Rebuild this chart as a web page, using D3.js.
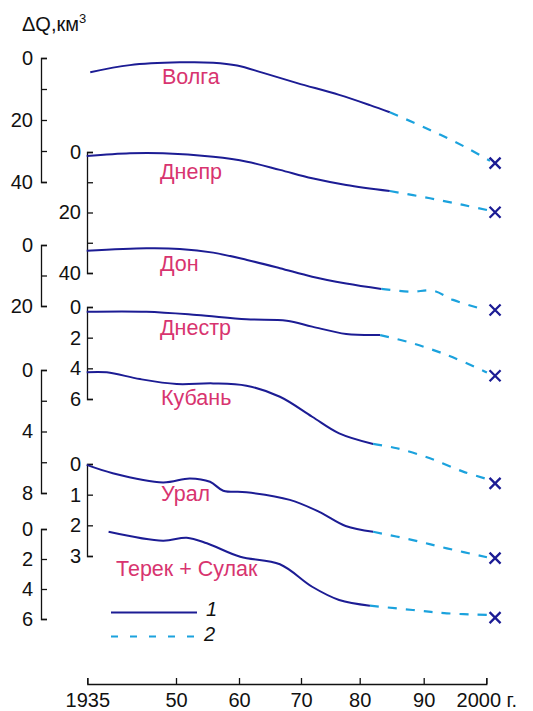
<!DOCTYPE html>
<html>
<head>
<meta charset="utf-8">
<script src="https://cdn.jsdelivr.net/npm/d3@7"></script>
<style>
    body { margin: 0; background: #fff; }
    svg { display: block; font-family: "Liberation Sans", Arial, sans-serif; }
</style>
</head>
<body>
<svg id="runoffChart" width="533" height="711"></svg>
<script>
// years on the x axis
const yearTicks = [1935, 1950, 1960, 1970, 1980, 1990, 2000];
const yearLabels = ["1935", "50", "60", "70", "80", "90", "2000 г."];

const riverNames = ["Волга", "Днепр", "Дон", "Днестр", "Кубань", "Урал", "Терек + Сулак"];

// [year, ΔQ km³] — 1: observed, 2: projected
const volgaObserved = [[1935.5, 4.6], [1942.2, 2.3], [1950.6, 1.4], [1955.9, 1.5], [1959.7, 2.4], [1963.9, 4.8], [1969.4, 8.1], [1976.5, 11.9], [1981.6, 15.2], [1984.7, 17.5]];
const volgaProjected = [[1984.7, 17.5], [1991.0, 23.2], [1996.9, 29.0], [2000.6, 33.2]];

const dneprObserved = [[1934.9, 1.3], [1942.2, 0.4], [1947.8, 0.4], [1955.9, 1.6], [1961.3, 3.2], [1966.6, 5.9], [1971.9, 8.7], [1977.7, 10.9], [1984.7, 12.9]];
const dneprProjected = [[1984.7, 12.9], [1991.0, 15.3], [1996.3, 17.5], [2000.6, 19.4]];

const donObserved = [[1934.9, 1.9], [1945.0, 1.1], [1950.6, 1.3], [1955.9, 2.5], [1961.3, 4.9], [1966.6, 7.6], [1971.9, 10.4], [1977.7, 12.6], [1983.4, 14.4]];
const donProjected = [[1983.4, 14.4], [1988.0, 15.3], [1991.5, 15.0], [1994.7, 18.0], [1999.0, 20.8]];

const dnestrObserved = [[1934.9, 0.31], [1945.0, 0.31], [1953.3, 0.52], [1961.2, 0.80], [1967.7, 0.89], [1971.9, 1.28], [1977.7, 1.76], [1983.2, 1.83]];
const dnestrProjected = [[1983.2, 1.83], [1988.3, 2.37], [1993.7, 3.13], [1999.0, 4.06], [2000.1, 4.27]];

const kubanObserved = [[1934.9, 0.15], [1938.3, 0.15], [1943.9, 0.59], [1950.1, 0.91], [1955.9, 0.87], [1961.2, 1.02], [1966.6, 1.74], [1971.9, 3.04], [1976.5, 4.12], [1982.1, 4.81]];
const kubanProjected = [[1982.1, 4.81], [1985.8, 5.09], [1991.0, 5.74], [1996.3, 6.61], [2000.1, 7.09]];

const uralObserved = [[1934.9, 0.03], [1939.3, 0.30], [1947.8, 0.60], [1952.2, 0.47], [1955.4, 0.58], [1957.5, 0.87], [1961.2, 0.92], [1968.2, 1.17], [1973.1, 1.56], [1977.6, 2.02], [1982.1, 2.21]];
const uralProjected = [[1982.1, 2.21], [1988.3, 2.48], [1993.7, 2.75], [2000.1, 3.04]];

const terekObserved = [[1938.6, 0.18], [1947.8, 0.78], [1951.7, 0.58], [1954.9, 0.95], [1960.2, 1.85], [1966.6, 2.35], [1971.9, 3.85], [1976.5, 4.73], [1981.6, 5.11]];
const terekProjected = [[1981.6, 5.11], [1988.3, 5.40], [1993.7, 5.62], [2000.1, 5.73]];

// forecast for 2000 (crosses)
const forecastYear = 2001.4;
const forecastValues = [33.9, 19.9, 21.3, 4.48, 7.37, 3.07, 5.91];

// y axis for each river: max, tick values, labelled values
const axisMax = [40, 40, 20, 6, 8, 3, 6];
const axisTicks = [[0, 10, 20, 30, 40], [0, 10, 20, 30, 40], [0, 10, 20], [0, 2, 4, 6], [0, 2, 4, 6, 8], [0, 1, 2, 3], [0, 2, 4, 6]];
const axisLabels = [[0, 20, 40], [0, 20, 40], [0, 20], [0, 2, 4, 6], [0, 4, 8], [0, 1, 2, 3], [0, 2, 4, 6]];

const observed = [volgaObserved, dneprObserved, donObserved, dnestrObserved, kubanObserved, uralObserved, terekObserved];
const projected = [volgaProjected, dneprProjected, donProjected, dnestrProjected, kubanProjected, uralProjected, terekProjected];

// layout
const colLeft = 41, colRight = 87;
const panels = [
    { axisX: colLeft,  top: 58,  bottom: 182, labelX: 162, labelY: 84 },
    { axisX: colRight, top: 152, bottom: 273, labelX: 160, labelY: 179 },
    { axisX: colLeft,  top: 245, bottom: 306, labelX: 160, labelY: 271 },
    { axisX: colRight, top: 307, bottom: 399, labelX: 160, labelY: 335 },
    { axisX: colLeft,  top: 370, bottom: 493, labelX: 161, labelY: 405 },
    { axisX: colRight, top: 464, bottom: 556, labelX: 161, labelY: 501 },
    { axisX: colLeft,  top: 529, bottom: 619, labelX: 116, labelY: 576 },
];

const navy = "#1c1c94";
const sky = "#1ba2dd";
const pink = "#d8346f";

const svg = d3.select("#runoffChart");

// the printed year axis is not evenly spaced, follow its ticks
const mapX = d3.scaleLinear()
    .domain(yearTicks)
    .range([87.3, 176, 239, 301, 359.7, 423.7, 486.3]);

const xAxis = d3.axisBottom(mapX)
    .tickValues(yearTicks)
    .tickFormat((d, i) => yearLabels[i])
    .tickSize(-6)
    .tickSizeOuter(-6)
    .tickPadding(9);

svg.append("g")
    .attr("class", "x axis")
    .attr("transform", "translate(0, 684)")
    .call(xAxis)
    .call((g) => g.selectAll("text").attr("font-size", 20).attr("fill", "#111"))
    .call((g) => g.selectAll("line, path").attr("stroke", "#111").attr("stroke-width", 1.3));

// y axis title
const title = svg.append("text")
    .attr("x", 22)
    .attr("y", 31)
    .attr("font-size", 20)
    .attr("fill", "#111");
title.append("tspan").text("ΔQ,км");
title.append("tspan").attr("font-size", 13).attr("dy", -8).text("3");

const line = d3.line()
    .x((d) => mapX(d[0]))
    .y((d) => d[1])
    .curve(d3.curveCatmullRom.alpha(0.5));

riverNames.forEach((name, i) => {
    const p = panels[i];
    const mapY = d3.scaleLinear()
        .domain([0, axisMax[i]])
        .range([p.top, p.bottom]);

    const yAxis = d3.axisLeft(mapY)
        .tickValues(axisTicks[i])
        .tickFormat((d) => (axisLabels[i].includes(d) ? d : ""))
        .tickSize(-6)
        .tickSizeOuter(-6)
        .tickPadding(p.axisX === colLeft ? 8 : 6);

    svg.append("g")
        .attr("class", "y axis")
        .attr("transform", `translate(${p.axisX}, 0)`)
        .call(yAxis)
        .call((g) => g.selectAll("text").attr("font-size", 20).attr("fill", "#111"))
        .call((g) => g.selectAll("line, path").attr("stroke", "#111").attr("stroke-width", 1.3));

    svg.append("path")
        .datum(observed[i].map((d) => [d[0], mapY(d[1])]))
        .attr("fill", "none")
        .attr("stroke", navy)
        .attr("stroke-width", 2)
        .attr("d", line);

    svg.append("path")
        .datum(projected[i].map((d) => [d[0], mapY(d[1])]))
        .attr("fill", "none")
        .attr("stroke", sky)
        .attr("stroke-width", 2.2)
        .attr("stroke-dasharray", "9,9")
        .attr("d", line);

    const cx = mapX(forecastYear);
    const cy = mapY(forecastValues[i]);
    svg.append("path")
        .attr("d", `M${cx - 5.5},${cy - 5.5}L${cx + 5.5},${cy + 5.5}M${cx - 5.5},${cy + 5.5}L${cx + 5.5},${cy - 5.5}`)
        .attr("stroke", navy)
        .attr("stroke-width", 2.3)
        .attr("fill", "none");

    svg.append("text")
        .attr("x", p.labelX)
        .attr("y", p.labelY)
        .attr("font-size", 21.5)
        .attr("fill", pink)
        .text(name);
});

// legend
const legend = svg.append("g").attr("class", "legend");
legend.append("line")
    .attr("x1", 111).attr("x2", 197)
    .attr("y1", 612.5).attr("y2", 612.5)
    .attr("stroke", navy)
    .attr("stroke-width", 2);
legend.append("text")
    .attr("x", 206).attr("y", 616)
    .attr("font-size", 20)
    .attr("font-style", "italic")
    .attr("fill", "#111")
    .text("1");
legend.append("line")
    .attr("x1", 111).attr("x2", 197)
    .attr("y1", 636.5).attr("y2", 636.5)
    .attr("stroke", sky)
    .attr("stroke-width", 2.2)
    .attr("stroke-dasharray", "7,12");
legend.append("text")
    .attr("x", 204).attr("y", 641)
    .attr("font-size", 20)
    .attr("font-style", "italic")
    .attr("fill", "#111")
    .text("2");
</script>
</body>
</html>
